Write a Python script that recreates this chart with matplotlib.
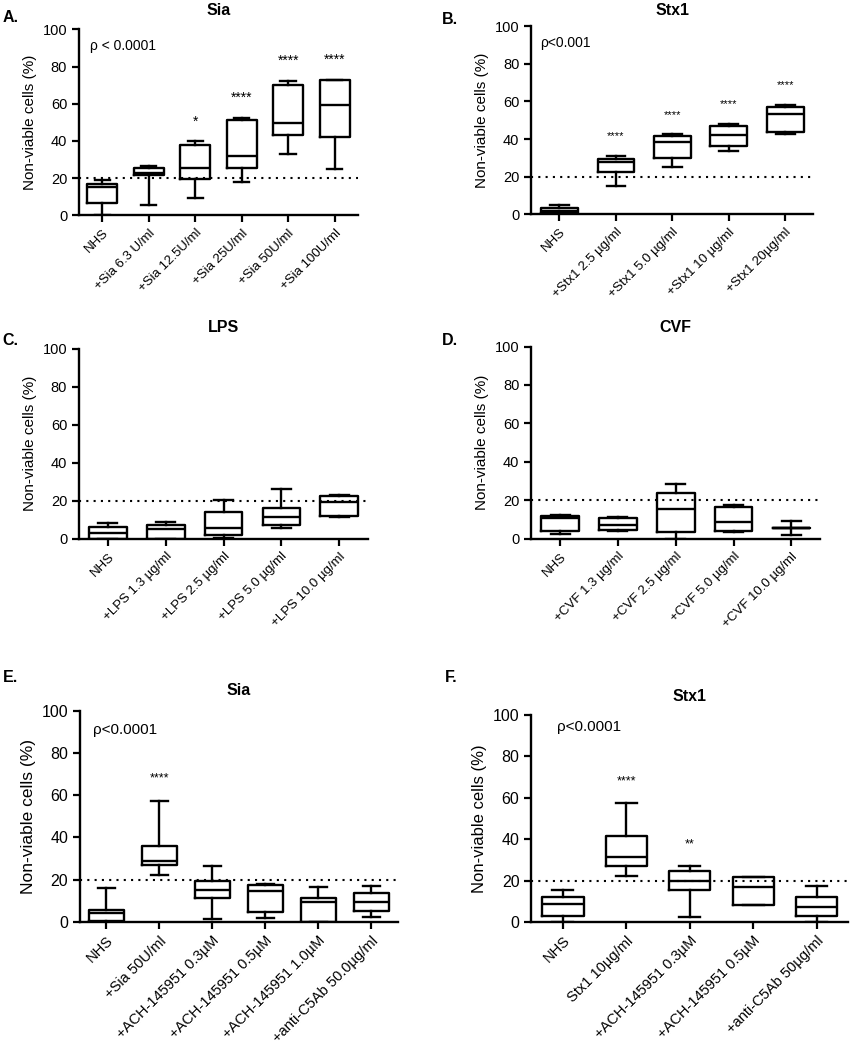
import matplotlib
matplotlib.use("Agg")
import matplotlib.pyplot as plt

plt.rcParams['font.family'] = ['Liberation Sans', 'DejaVu Sans']

# ---------------- data ----------------
# Panel A: Sia
a_labels = ["NHS", "+Sia 6.3 U/ml", "+Sia 12.5U/ml", "+Sia 25U/ml", "+Sia 50U/ml", "+Sia 100U/ml"]
a_min = [0, 5.5, 9.5, 18, 33, 25]
a_q1 = [6.5, 21.5, 19.5, 25.5, 43, 42]
a_med = [15, 22.5, 25.5, 32, 49.5, 59.5]
a_q3 = [17, 25.5, 38, 51, 70, 73]
a_max = [19, 26.5, 40, 52.5, 72.5, 73]
a_stars = ["", "", "*", "****", "****", "****"]

# Panel B: Stx1
b_labels = ["NHS", "+Stx1 2.5 \u00b5g/ml", "+Stx1 5.0 \u00b5g/ml", "+Stx1 10 \u00b5g/ml", "+Stx1 20\u00b5g/ml"]
b_min = [0, 15, 25, 33.5, 42.8]
b_q1 = [0.5, 22.5, 30, 36.5, 43.5]
b_med = [1.5, 28, 38.5, 42, 53.5]
b_q3 = [3.5, 29.5, 41.5, 47, 57]
b_max = [5, 31, 42.5, 48, 58]
b_stars = ["", "****", "****", "****", "****"]

# Panel C: LPS
c_labels = ["NHS", "+LPS 1.3 \u00b5g/ml", "+LPS 2.5 \u00b5g/ml", "+LPS 5.0 \u00b5g/ml", "+LPS 10.0 \u00b5g/ml"]
c_min = [0, 0, 0.5, 5.5, 11.5]
c_q1 = [0, 0, 2, 7, 12]
c_med = [3, 5, 5.5, 11.5, 19.5]
c_q3 = [6, 7, 14, 16, 22.5]
c_max = [8, 8.5, 20.5, 26, 23]

# Panel D: CVF
d_labels = ["NHS", "+CVF 1.3 \u00b5g/ml", "+CVF 2.5 \u00b5g/ml", "+CVF 5.0 \u00b5g/ml", "+CVF 10.0 \u00b5g/ml"]
d_min = [2.5, 4, 0, 3.5, 2]
d_q1 = [4, 4.5, 3.5, 4, 5.5]
d_med = [10.5, 7, 15.5, 8.5, 5.5]
d_q3 = [12, 11, 24, 16.5, 5.5]
d_max = [12.5, 11.5, 28.5, 17.5, 9]

# Panel E: Sia + inhibitors
e_labels = ["NHS", "+Sia 50U/ml", "+ACH-145951 0.3\u00b5M", "+ACH-145951 0.5\u00b5M",
            "+ACH-145951 1.0\u00b5M", "+anti-C5Ab 50.0\u00b5g/ml"]
e_min = [0, 22, 1.5, 2, 0, 2.5]
e_q1 = [0.5, 27, 11.5, 4.5, 0, 5]
e_med = [4, 29, 15, 14.5, 9.5, 9.5]
e_q3 = [5.5, 36, 19.5, 17.5, 11.5, 13.5]
e_max = [16, 57.5, 26.5, 18, 16.5, 17]
e_stars = ["", "****", "", "", "", ""]

# Panel F: Stx1 + inhibitors
f_labels = ["NHS", "Stx1 10\u00b5g/ml", "+ACH-145951 0.3\u00b5M", "+ACH-145951 0.5\u00b5M", "+anti-C5Ab 50\u00b5g/ml"]
f_min = [0, 22, 2.5, 8, 0]
f_q1 = [3, 27, 15.5, 8, 3]
f_med = [8.5, 31.5, 20, 17, 7]
f_q3 = [12, 41.5, 24.5, 21.5, 12]
f_max = [15.5, 57.5, 27, 21.5, 17.5]
f_stars = ["", "****", "**", "", ""]

yticks = [0, 20, 40, 60, 80, 100]
threshold = 20

# ---------------- drawing ----------------
fig = plt.figure(figsize=(8.5, 10.5), dpi=100)

panels = [
    ([0.093, 0.795, 0.328, 0.177], "Sia", "A.", a_labels, a_min, a_q1, a_med, a_q3, a_max, a_stars,
     "\u03c1 < 0.0001", (0.04, 0.91), 9.5, 11, 10),
    ([0.625, 0.796, 0.332, 0.179], "Stx1", "B.", b_labels, b_min, b_q1, b_med, b_q3, b_max, b_stars,
     "\u03c1<0.001", (0.03, 0.91), 9.5, 11, 8),
    ([0.093, 0.487, 0.340, 0.181], "LPS", "C.", c_labels, c_min, c_q1, c_med, c_q3, c_max, None,
     None, None, 9.5, 11, 8),
    ([0.625, 0.487, 0.340, 0.183], "CVF", "D.", d_labels, d_min, d_q1, d_med, d_q3, d_max, None,
     None, None, 9.5, 11, 8),
    ([0.094, 0.122, 0.374, 0.201], "Sia", "E.", e_labels, e_min, e_q1, e_med, e_q3, e_max, e_stars,
     "\u03c1<0.0001", (0.04, 0.91), 10.5, 12.5, 9),
    ([0.625, 0.122, 0.373, 0.197], "Stx1", "F.", f_labels, f_min, f_q1, f_med, f_q3, f_max, f_stars,
     "\u03c1<0.0001", (0.08, 0.94), 10.5, 12, 9),
]

letter_pos = {"A.": (0.003, 0.983), "B.": (0.52, 0.981), "C.": (0.003, 0.676),
              "D.": (0.52, 0.676), "E.": (0.003, 0.355), "F.": (0.523, 0.355)}
title_y = {"A.": 0.990, "B.": 0.990, "C.": 0.688, "D.": 0.688, "E.": 0.342, "F.": 0.337}

for (rect, title, letter, labels, mins, q1s, meds, q3s, maxs, stars,
     ptext, ppos, fs_tick, fs_lab, star_fs) in panels:
    ax = fig.add_axes(rect)
    n = len(labels)
    stats = []
    for i in range(n):
        stats.append(dict(whislo=mins[i], q1=q1s[i], med=meds[i], q3=q3s[i],
                          whishi=maxs[i], fliers=[], label=labels[i]))
    lw = 1.7
    ax.bxp(stats, positions=list(range(n)), widths=0.65, capwidths=0.33,
           showfliers=False, patch_artist=False,
           boxprops=dict(color='black', linewidth=lw),
           medianprops=dict(color='black', linewidth=lw),
           whiskerprops=dict(color='black', linewidth=lw),
           capprops=dict(color='black', linewidth=lw))
    ax.axhline(threshold, color='black', linestyle=(0, (1, 2.5)), linewidth=1.5, zorder=0)
    ax.set_xlim(-0.5, n - 0.5)
    ax.set_ylim(0, 100)
    ax.set_yticks(yticks)
    ax.set_xticks(list(range(n)))
    ax.set_xticklabels(labels, rotation=45, ha='right', rotation_mode='anchor', fontsize=fs_tick)
    ax.tick_params(axis='y', labelsize=fs_tick + 1, width=1.6, length=5, direction='out')
    ax.tick_params(axis='x', width=1.6, length=5, direction='out')
    for s in ['top', 'right']:
        ax.spines[s].set_visible(False)
    for s in ['left', 'bottom']:
        ax.spines[s].set_linewidth(1.7)
    ax.set_ylabel("Non-viable cells (%)", fontsize=fs_lab)
    if stars is not None:
        for i, s in enumerate(stars):
            if s:
                ax.text(i, maxs[i] + 10.5, s, ha='center', va='center', fontsize=star_fs)
    if ptext:
        ax.text(ppos[0], ppos[1], ptext, transform=ax.transAxes, ha='left', va='center',
                fontsize=fs_tick + 0.5)
    cx = rect[0] + rect[2] / 2
    fig.text(cx, title_y[letter], title, ha='center', va='center', fontsize=11.5, fontweight='bold')
    lx, ly = letter_pos[letter]
    fig.text(lx, ly, letter, ha='left', va='center', fontsize=11.5, fontweight='bold')

fig.savefig("out.png", dpi=100)
